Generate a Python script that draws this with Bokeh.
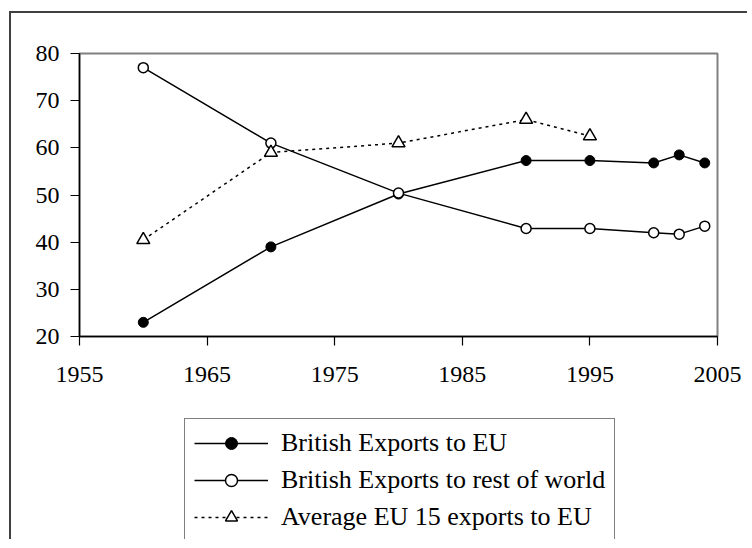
from bokeh.plotting import figure
from bokeh.layouts import column
from bokeh.models import Legend, LegendItem, FixedTicker, Range1d
from bokeh.embed import file_html
from bokeh.resources import INLINE

years_eu = [1960, 1970, 1980, 1990, 1995, 2000, 2002, 2004]
uk_to_eu = [23.0, 39.0, 50.2, 57.3, 57.3, 56.8, 58.5, 56.8]
uk_to_row = [77.0, 61.0, 50.4, 42.9, 42.9, 42.0, 41.7, 43.4]

years_avg = [1960, 1970, 1980, 1990, 1995]
eu15_to_eu = [40.5, 59.0, 61.0, 66.0, 62.5]

x_ticks = [1955, 1965, 1975, 1985, 1995, 2005]
y_ticks = [20, 30, 40, 50, 60, 70, 80]

labels = ["British Exports to EU", "British Exports to rest of world",
          "Average EU 15 exports to EU"]

FONT = "Liberation Serif"


def draw_series(fig):
    l1 = fig.line(years_eu, uk_to_eu, line_color="black", line_width=1.5)
    s1 = fig.scatter(years_eu, uk_to_eu, marker="circle", size=10,
                     fill_color="black", line_color="black")
    l2 = fig.line(years_eu, uk_to_row, line_color="black", line_width=1.5)
    s2 = fig.scatter(years_eu, uk_to_row, marker="circle", size=10,
                     fill_color="white", line_color="black", line_width=1.5)
    l3 = fig.line(years_avg, eu15_to_eu, line_color="black", line_width=1.5,
                  line_dash="3 4")
    s3 = fig.scatter(years_avg, eu15_to_eu, marker="triangle", size=13,
                     fill_color="white", line_color="black", line_width=1.5)
    return [(l1, s1), (l2, s2), (l3, s3)]


# main chart
p = figure(width=736, height=387, x_range=(1955, 2005), y_range=(20, 80),
           output_backend="svg", toolbar_location=None,
           min_border_left=68, min_border_right=30, min_border_top=40, min_border_bottom=64)
p.xgrid.visible = False
p.ygrid.visible = False
p.outline_line_color = "#808080"
p.outline_line_width = 2
p.background_fill_color = "white"
p.border_fill_color = "white"

for ax in (p.xaxis[0], p.yaxis[0]):
    ax.axis_line_color = "black"
    ax.axis_line_width = 1.5
    ax.major_tick_line_color = "black"
    ax.major_tick_line_width = 1.2
    ax.major_tick_in = 0
    ax.major_tick_out = 9
    ax.minor_tick_line_color = None
    ax.major_label_text_font = FONT
    ax.major_label_text_font_size = "24px"
    ax.major_label_text_color = "black"

p.xaxis[0].ticker = FixedTicker(ticks=x_ticks)
p.yaxis[0].ticker = FixedTicker(ticks=y_ticks)
p.xaxis[0].major_label_standoff = 21
p.yaxis[0].major_label_standoff = 11

draw_series(p)

# legend panel (its series sit outside its ranges, only the legend shows)
q = figure(width=736, height=139, x_range=Range1d(0, 1), y_range=Range1d(0, 1),
           output_backend="svg", toolbar_location=None,
           x_axis_type=None, y_axis_type=None, min_border=0)
q.xgrid.visible = False
q.ygrid.visible = False
q.outline_line_color = None
q.background_fill_color = "white"
q.border_fill_color = "white"
pairs = draw_series(q)

legend = Legend(items=[LegendItem(label=lab, renderers=list(pr))
                       for lab, pr in zip(labels, pairs)],
                location=(105, -3))
legend.label_text_font = FONT
legend.label_text_font_size = "26px"
legend.label_text_color = "black"
legend.glyph_width = 74
legend.glyph_height = 30
legend.label_height = 30
legend.spacing = 7
legend.padding = 9
legend.margin = 0
legend.label_standoff = 13
legend.border_line_color = "black"
legend.border_line_width = 1
legend.background_fill_color = "white"
legend.background_fill_alpha = 1
q.add_layout(legend, "center")

layout = column(p, q, spacing=0)
layout.styles = {"border-top": "2px solid #404040", "border-left": "2px solid #404040",
                 "margin-left": "9px", "margin-top": "11px"}

open("out.html", "w").write(file_html(layout, INLINE))
